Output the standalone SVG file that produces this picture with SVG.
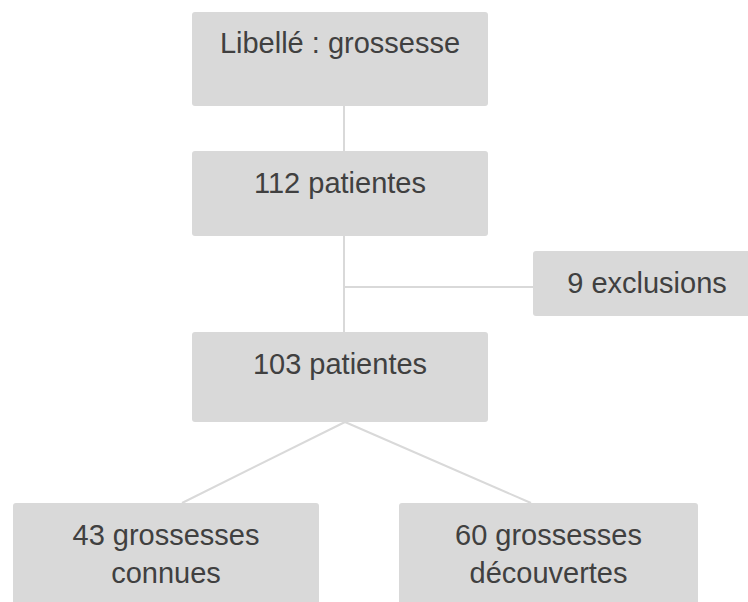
<svg xmlns="http://www.w3.org/2000/svg" width="748" height="602" viewBox="0 0 748 602">
<style>
.box{fill:#d9d9d9;}
.t{font-family:"Liberation Sans",Arial,sans-serif;font-size:29px;fill:#404040;text-anchor:middle;}
.c{stroke:#d9d9d9;stroke-width:2;fill:none;}
</style>
<rect width="748" height="602" fill="#ffffff"/>
<g id="connectors">
<line class="c" x1="344" y1="106" x2="344" y2="151"/>
<line class="c" x1="344" y1="236" x2="344" y2="332"/>
<line class="c" x1="344" y1="287" x2="533" y2="287"/>
<line class="c" x1="345" y1="422" x2="182" y2="503"/>
<line class="c" x1="345" y1="422" x2="531" y2="503"/>
</g>
<g id="n1"><rect class="box" x="192" y="12" width="296" height="94" rx="3"/><text class="t" x="340" y="53">Libellé : grossesse</text></g>
<g id="n2"><rect class="box" x="192" y="151" width="296" height="85" rx="3"/><text class="t" x="340" y="193">112 patientes</text></g>
<g id="n3"><rect class="box" x="533" y="251" width="230" height="65" rx="3"/><text class="t" x="647" y="293">9 exclusions</text></g>
<g id="n4"><rect class="box" x="192" y="332" width="296" height="90" rx="3"/><text class="t" x="340" y="374">103 patientes</text></g>
<g id="n5"><rect class="box" x="13" y="503" width="306" height="110" rx="3"/><text class="t" x="166" y="545">43 grossesses</text><text class="t" x="166" y="583">connues</text></g>
<g id="n6"><rect class="box" x="399" y="503" width="299" height="110" rx="3"/><text class="t" x="548.5" y="545">60 grossesses</text><text class="t" x="548.5" y="583">découvertes</text></g>
</svg>
